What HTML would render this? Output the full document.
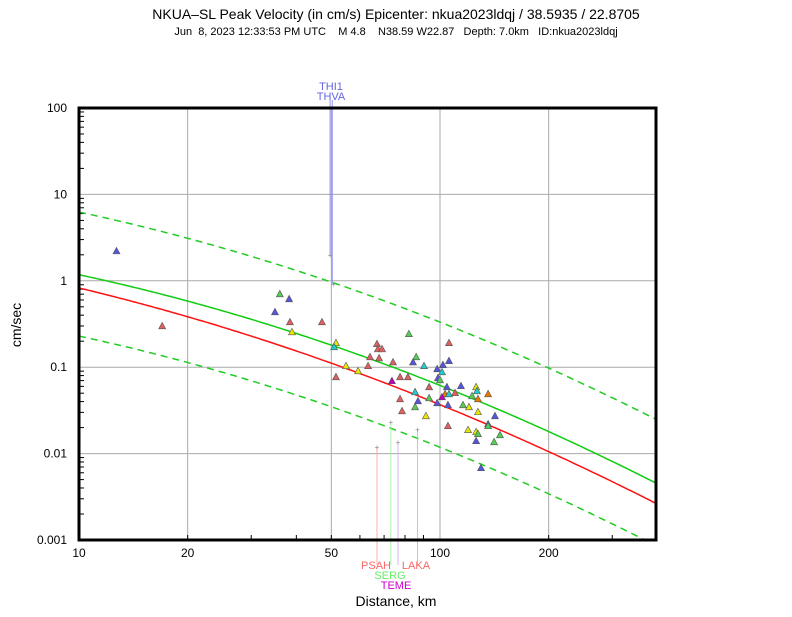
<!DOCTYPE html>
<html><head><meta charset="utf-8"><style>
body{margin:0;background:#fff}
svg text{font-family:"Liberation Sans",sans-serif;white-space:pre}
</style></head><body>
<svg id="c" width="792" height="612" xmlns="http://www.w3.org/2000/svg">
<defs><clipPath id="plotclip"><rect x="79" y="108" width="577" height="432"/></clipPath></defs>
<text x="396" y="19" font-size="14" text-anchor="middle">NKUA–SL Peak Velocity (in cm/s) Epicenter: nkua2023ldqj / 38.5935 / 22.8705</text>
<text x="396" y="35" font-size="11" text-anchor="middle" xml:space="preserve">Jun  8, 2023 12:33:53 PM UTC    M 4.8    N38.59 W22.87   Depth: 7.0km   ID:nkua2023ldqj</text>
<text x="396" y="606" font-size="14" text-anchor="middle">Distance, km</text>
<text transform="translate(21,325) rotate(-90)" font-size="14" text-anchor="middle">cm/sec</text>
<g id="grid"></g><g id="curves" clip-path="url(#plotclip)"></g><g id="marks"></g><g id="labels"></g>
<rect x="79" y="108" width="577" height="432" fill="none" stroke="#000" stroke-width="3"/>
</svg>
<script>
const xTicks=[10,20,50,100,200];
const yTicks=[100,10,1,0.1,0.01,0.001];
const yTickLabels=["100","10","1","0.1","0.01","0.001"];
const curveDist=[10,15,20,30,50,70,100,150,200,300,394];
const meanGreen=[1.17,0.82,0.60,0.35,0.163,0.105,0.064,0.0321,0.0197,0.0080,0.00435];
const meanRed=[0.875,0.55,0.363,0.21,0.110,0.064,0.038,0.0196,0.0116,0.00462,0.00249];
const upperDash=[6.3,4.35,3.2,1.85,0.86,0.56,0.34,0.185,0.108,0.0434,0.0233];
const lowerDash=[0.225,0.16,0.12,0.068,0.031,0.020,0.0125,0.0062,0.0037,0.0015,0.00083];
const ptDist=[12.7,17.0,36.0,38.2,34.9,38.4,47.1,38.9,82.0,105.9,51.5,50.9,66.9,67.3,69.1,64.0,67.8,85.9,74.1,84.2,105.9,101.9,90.3,54.9,63.2,59.3,98.2,101.3,51.5,77.5,81.5,98.7,100,73.6,93.3,104.5,114.3,125.9,126.6,135.9,85.3,103.3,105.9,110.1,122.7,101.3,93.3,127.4,77.5,86.9,98.2,105.2,115.8,120.3,85.3,78.5,127.4,91.4,142.0,135.9,135.9,105.2,119.6,125.9,127.4,146.6,125.9,141.2,129.9];
const ptVel=[2.22,0.301,0.707,0.619,0.438,0.335,0.335,0.257,0.244,0.192,0.192,0.172,0.187,0.163,0.163,0.132,0.128,0.132,0.115,0.115,0.119,0.107,0.104,0.104,0.104,0.0908,0.0958,0.0885,0.0774,0.0774,0.0774,0.0754,0.0715,0.0697,0.0593,0.0593,0.0610,0.0593,0.0533,0.0492,0.0519,0.0492,0.0492,0.0506,0.0467,0.0454,0.0442,0.0431,0.0431,0.0408,0.0387,0.0367,0.0367,0.0348,0.0348,0.0313,0.0305,0.0274,0.0274,0.0221,0.0210,0.0210,0.0189,0.0179,0.0170,0.0165,0.0141,0.0137,0.00686];
const ptColor=["#5555dd","#e06060","#55cc55","#5555dd","#5555dd","#e06060","#e06060","#e8e800","#55cc55","#e06060","#e8e800","#22cccc","#e06060","#e06060","#e06060","#e06060","#e06060","#55cc55","#e06060","#5555dd","#5555dd","#5555dd","#22cccc","#e8e800","#e06060","#e8e800","#5555dd","#22cccc","#e06060","#e06060","#e06060","#5555dd","#55cc55","#bb00bb","#e06060","#5555dd","#5555dd","#e8e800","#22cccc","#ee7700","#22cccc","#ee7700","#22cccc","#e06060","#55cc55","#bb00bb","#55cc55","#ee7700","#e06060","#5555dd","#5555dd","#5555dd","#55cc55","#e8e800","#55cc55","#e06060","#e8e800","#e8e800","#5555dd","#5555dd","#55cc55","#e06060","#e8e800","#e8e800","#55cc55","#55cc55","#5555dd","#55cc55","#5555dd"];
const stNames=["THVA","THI1","PSAH","SERG","TEME","LAKA"];
const stDist=[49.6,50.6,66.9,73.1,76.5,86.6];
const stVel=[2.0,0.923,0.0120,0.0233,0.0137,0.0189];
const stColor=["#7777ee","#7777ee","#ff9999","#99ee99","#ccaaee","#ff9999"];
const stLabelColor=["#6666dd","#6666dd","#ff6666","#66ee66","#cc00cc","#ff6666"];

const NS="http://www.w3.org/2000/svg";
const X0=79,X1=656,Y0=108,Y1=540;
const xs=d=>X0+(Math.log10(d)-1)*361;
const ys=v=>Y0+(2-Math.log10(v))*86.4;
function mk(tag,attrs,parent){const e=document.createElementNS(NS,tag);for(const k in attrs)e.setAttribute(k,attrs[k]);document.getElementById(parent).appendChild(e);return e;}
xTicks.forEach((t,i)=>{
  if(t>10){const g=mk('line',{x1:xs(t),x2:xs(t),y1:Y0,y2:Y1,stroke:'#aaa','stroke-width':1},'grid');
  
  }
  const l=mk('text',{x:xs(t),y:557,'font-size':12,'text-anchor':'middle'},'grid');l.textContent=t;
  
  
});
for(let dec=10;dec<=100;dec*=10)for(let m=2;m<=9;m++){const d=dec*m;if(d>394)continue;
  const t=mk('line',{x1:xs(d),x2:xs(d),y1:Y1,y2:Y1-5,stroke:'#000'},'grid');
  
  }
yTicks.forEach((t,i)=>{
  if(t<100&&t>0.001){const g=mk('line',{x1:X0,x2:X1,y1:ys(t),y2:ys(t),stroke:'#aaa','stroke-width':1},'grid');
  
  }
  const l=mk('text',{x:67,y:ys(t)+4,'font-size':12,'text-anchor':'end'},'grid');l.textContent=yTickLabels[i];
  
  
  if(t>0.001)for(let m=2;m<=9;m++){const tk=mk('line',{x1:X0,x2:X0+5,y1:ys(t/10*m),y2:ys(t/10*m),stroke:'#000'},'grid');
  
  }
});
// smooth log-log quadratic least-squares through the read samples
function fit(vals){
  const S=[[0,0,0],[0,0,0],[0,0,0]],B=[0,0,0];
  curveDist.forEach((d,i)=>{const L=Math.log10(d),f=[1,L,L*L],y=Math.log10(vals[i]);
    for(let r=0;r<3;r++){B[r]+=f[r]*y;for(let c=0;c<3;c++)S[r][c]+=f[r]*f[c];}});
  for(let i=0;i<3;i++){for(let j=i+1;j<3;j++){const m=S[j][i]/S[i][i];for(let k=i;k<3;k++)S[j][k]-=m*S[i][k];B[j]-=m*B[i];}}
  const x=[0,0,0];for(let i=2;i>=0;i--){let s=B[i];for(let k=i+1;k<3;k++)s-=S[i][k]*x[k];x[i]=s/S[i][i];}
  return x;
}
function curve(vals,color,dash,name){
  const c=fit(vals);const pts=[];
  for(let px=X0;px<=X1;px+=3){const L=1+(px-X0)/361;const lv=c[0]+c[1]*L+c[2]*L*L;pts.push(px+','+ys(Math.pow(10,lv)).toFixed(1));}
  const p=mk('polyline',{points:pts.join(' '),fill:'none',stroke:color,'stroke-width':1.5,'stroke-dasharray':dash},'curves');
  
  
}
curve(upperDash,'#22cc22','7,5','upper-bound-curve');
curve(lowerDash,'#22cc22','7,5','lower-bound-curve');
curve(meanGreen,'#11cc11','none','green-regression-curve');
curve(meanRed,'#ff1111','none','red-regression-curve');
stNames.forEach((n,i)=>{
  const x=xs(stDist[i]),y=ys(stVel[i]);
  const top=i<2;
  const lx=(i==1?x-1:x);
  const ln=mk('line',{x1:lx,x2:lx,y1:y,y2:top?100:565,stroke:stColor[i],'stroke-width':0.8},'marks');
  
  
  const c=mk('text',{x:x,y:y+3,'font-size':8,'text-anchor':'middle',fill:'#888'},'marks');c.textContent='+';
  
  
});
const lblPos=[[331,100,"THVA"],[331,90,"THI1"],[376,569,"PSAH"],[390,579,"SERG"],[396,589,"TEME"],[416,569,"LAKA"]];
lblPos.forEach((p,i)=>{const t=mk('text',{x:p[0],y:p[1],'font-size':11,'text-anchor':'middle',fill:stLabelColor[i]},'labels');t.textContent=stNames[i];
  
  });
ptDist.forEach((d,i)=>{
  const x=xs(d),y=ys(ptVel[i]);
  const p=mk('polygon',{points:`${x},${y-3.5} ${x-3.5},${y+3} ${x+3.5},${y+3}`,fill:ptColor[i],stroke:'#555','stroke-width':0.6},'marks');
  
  
});
</script>
</body></html>
